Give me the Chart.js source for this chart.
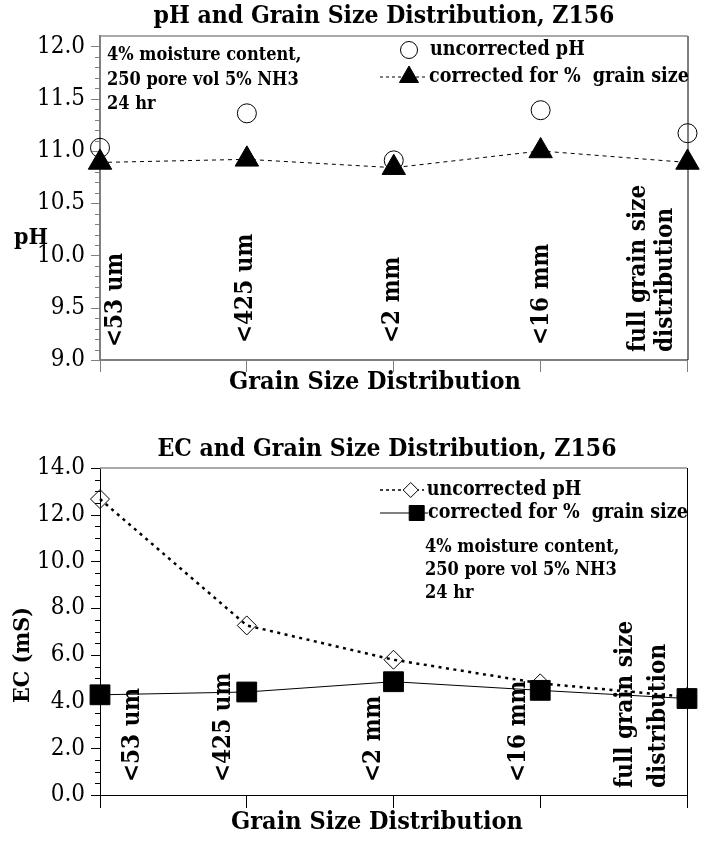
<!DOCTYPE html>
<html>
<head>
<meta charset="utf-8">
<title>pH and EC vs grain size, Z156</title>
<script src="https://cdn.jsdelivr.net/npm/chart.js@4.4.1/dist/chart.umd.min.js"></script>
<style>
  html, body { margin: 0; padding: 0; background: #fff; }
  canvas { display: block; }
</style>
</head>
<body>
<canvas id="phChart" width="702" height="410"></canvas>
<canvas id="ecChart" width="702" height="433"></canvas>
<script>
// values
const categories = ['<53 um', '<425 um', '<2 mm', '<16 mm', ['full grain size', 'distribution']];
const phUncorrected = [11.03, 11.36, 10.91, 11.39, 11.17];
const phCorrected = [10.89, 10.92, 10.84, 11.00, 10.89];
const ecUncorrected = [12.67, 7.26, 5.79, 4.78, 4.20];
const ecCorrected = [4.29, 4.41, 4.85, 4.48, 4.13];
const phRange = [9.0, 12.1];
const ecRange = [0, 14];
const seriesNames = ['uncorrected pH', 'corrected for %  grain size'];
const noteLines = ['4% moisture content,', '250 pore vol 5% NH3', '24 hr'];
const xTitle = 'Grain Size Distribution';

const SERIF = "'DejaVu Serif Condensed', 'DejaVu Serif', serif";

function seg(ctx, x1, y1, x2, y2) {
  ctx.beginPath();
  ctx.moveTo(x1, y1);
  ctx.lineTo(x2, y2);
  ctx.stroke();
}

function marker(ctx, style, x, y, r, fill) {
  ctx.beginPath();
  if (style === 'circle') ctx.arc(x, y, r, 0, Math.PI * 2);
  else if (style === 'triangle') {
    ctx.moveTo(x, y - r);
    ctx.lineTo(x + r * 0.866, y + r * 0.5);
    ctx.lineTo(x - r * 0.866, y + r * 0.5);
    ctx.closePath();
  } else if (style === 'rectRot') {
    ctx.moveTo(x, y - r); ctx.lineTo(x + r, y); ctx.lineTo(x, y + r); ctx.lineTo(x - r, y);
    ctx.closePath();
  } else ctx.rect(x - r, y - r, 2 * r, 2 * r);
  if (fill) { ctx.fillStyle = fill; ctx.fill(); }
  ctx.setLineDash([]);
  ctx.lineWidth = 1;
  ctx.strokeStyle = '#000';
  ctx.stroke();
}

// frame, minor ticks, in-plot category labels, titles, legend, note
const decor = {
  id: 'decor',
  beforeDatasetsDraw(chart, args, o) {
    const {ctx, chartArea: a, scales: {x, y}} = chart;
    ctx.save();
    ctx.strokeStyle = o.frameTop; ctx.lineWidth = 1.5;
    seg(ctx, a.left, a.top, a.right, a.top);
    ctx.strokeStyle = '#000'; ctx.lineWidth = 1;
    seg(ctx, a.right + 0.5, a.top, a.right + 0.5, a.bottom);

    ctx.strokeStyle = o.axisColor; ctx.lineWidth = 1;
    const n = Math.round((o.tickMax - o.tickMin) / o.minor);
    for (let i = 0; i <= n; i++) {
      const py = Math.round(y.getPixelForValue(o.tickMin + i * o.minor)) + 0.5;
      seg(ctx, a.left - (i % o.per === 0 ? 9 : 5), py, a.left, py);
    }

    ctx.fillStyle = '#000';
    ctx.font = 'bold 24px ' + SERIF;
    ctx.textAlign = 'left'; ctx.textBaseline = 'middle';
    chart.data.labels.forEach((lab, i) => {
      const lines = Array.isArray(lab) ? lab : [lab];
      const cx = x.getPixelForValue(i);
      lines.forEach((t, j) => {
        const dx = Array.isArray(o.labelDx[i]) ? o.labelDx[i][j] : o.labelDx[i];
        ctx.save();
        ctx.translate(cx + dx, a.bottom + o.labelDy[i]);
        ctx.rotate(-Math.PI / 2);
        ctx.fillText(t, 0, 0);
        ctx.restore();
      });
    });

    const yt = o.yTitle;
    ctx.font = 'bold 23px ' + SERIF;
    ctx.textAlign = 'center';
    ctx.save();
    ctx.translate(yt.x, yt.y);
    if (yt.rotate) ctx.rotate(-Math.PI / 2);
    ctx.fillText(yt.text, 0, 0);
    ctx.restore();

    ctx.font = 'bold 24.5px ' + SERIF;
    ctx.fillText(o.title, o.titlePos[0], o.titlePos[1]);
    ctx.font = 'bold 25px ' + SERIF;
    ctx.fillText(xTitle, o.xTitlePos[0], a.bottom + o.xTitlePos[1]);
    ctx.restore();
  },
  afterDraw(chart, args, o) {
    const ctx = chart.ctx;
    ctx.save();
    ctx.textAlign = 'left'; ctx.textBaseline = 'middle';
    o.legend.forEach((it, i) => {
      const ds = chart.data.datasets[i];
      if (it.line) {
        ctx.strokeStyle = '#000';
        ctx.lineWidth = it.lineWidth;
        ctx.setLineDash(it.dash);
        seg(ctx, it.line[0], it.y, it.line[1], it.y);
      }
      marker(ctx, ds.pointStyle, it.mx, it.y, it.r, it.fill);
      ctx.fillStyle = '#000';
      ctx.font = 'bold 19.5px ' + SERIF;
      ctx.fillText(ds.label, it.tx, it.y);
    });
    ctx.font = 'bold 18px ' + SERIF;
    noteLines.forEach((t, i) => ctx.fillText(t, o.note.x, o.note.y[i]));
    ctx.restore();
  }
};

function baseOptions(cfg) {
  return {
    responsive: false,
    animation: false,
    events: [],
    layout: { padding: { left: 0, right: cfg.padRight, top: cfg.padTop, bottom: cfg.padBottom } },
    plugins: {
      legend: { display: false },
      tooltip: { enabled: false },
      title: { display: false },
      decor: cfg.decor
    },
    scales: {
      x: {
        type: 'category',
        offset: false,
        afterFit: s => { s.height = cfg.xHeight; },
        grid: { display: true, drawOnChartArea: false, drawTicks: true, tickLength: cfg.tickLen, color: cfg.axisColor, offset: false },
        border: { display: true, color: cfg.axisColor, width: cfg.axisWidth },
        ticks: { display: false }
      },
      y: {
        min: cfg.range[0],
        max: cfg.range[1],
        afterFit: s => { s.width = 100; },
        grid: { display: false, drawTicks: false },
        border: { display: true, color: cfg.axisColor, width: cfg.axisWidth },
        ticks: {
          stepSize: cfg.step,
          includeBounds: false,
          padding: 15,
          color: '#000',
          font: { family: SERIF, size: 24 },
          callback: v => Number(v).toFixed(1)
        }
      }
    }
  };
}

new Chart(document.getElementById('phChart'), {
  type: 'line',
  data: {
    labels: categories,
    datasets: [
      {
        label: seriesNames[0], data: phUncorrected, showLine: false,
        pointStyle: 'circle', pointRadius: 9.5, pointBorderWidth: 1,
        pointBorderColor: '#000', pointBackgroundColor: 'rgba(0,0,0,0)',
        borderColor: '#000', order: 1, clip: false
      },
      {
        label: seriesNames[1], data: phCorrected,
        borderColor: '#000', borderWidth: 1, borderDash: [4, 4], tension: 0,
        pointStyle: 'triangle', pointRadius: 13.5, pointBorderWidth: 1,
        pointBorderColor: '#000', pointBackgroundColor: '#000', order: 0, clip: false
      }
    ]
  },
  plugins: [decor],
  options: baseOptions({
    padTop: 36, padRight: 10, padBottom: 15, xHeight: 35, tickLen: 12,
    axisColor: '#7f7f7f', axisWidth: 2,
    range: phRange, step: 0.5,
    decor: {
      title: 'pH and Grain Size Distribution, Z156',
      titlePos: [384, 17],
      xTitlePos: [375, 22],
      frameTop: '#8c8c8c', axisColor: '#7f7f7f',
      tickMin: 9, tickMax: 12, minor: 0.1, per: 5,
      labelDx: [16, -1, -1, 1, [-49, -22]],
      labelDy: [-13, -17, -17, -15, -8],
      yTitle: { text: 'pH', x: 31, y: 238, rotate: false },
      legend: [
        { y: 50, mx: 409, r: 8.5, fill: null, tx: 430 },
        { y: 77, mx: 409, r: 11, fill: '#000', tx: 429, line: [380, 427], dash: [3, 3], lineWidth: 1 }
      ],
      note: { x: 107, y: [55, 80, 104] }
    }
  })
});

new Chart(document.getElementById('ecChart'), {
  type: 'line',
  data: {
    labels: categories,
    datasets: [
      {
        label: seriesNames[0], data: ecUncorrected,
        borderColor: '#000', borderWidth: 2.5, borderDash: [3, 4.5], tension: 0,
        pointStyle: 'rectRot', pointRadius: 9.5, pointBorderWidth: 1,
        pointBorderColor: '#000', pointBackgroundColor: 'rgba(0,0,0,0)', order: 1, clip: false
      },
      {
        label: seriesNames[1], data: ecCorrected,
        borderColor: '#000', borderWidth: 1, tension: 0,
        pointStyle: 'rect', pointRadius: 14, pointBorderWidth: 1,
        pointBorderColor: '#000', pointBackgroundColor: '#000', order: 0, clip: false
      }
    ]
  },
  plugins: [decor],
  options: baseOptions({
    padTop: 58, padRight: 9, padBottom: 8, xHeight: 40, tickLen: 13,
    axisColor: '#000', axisWidth: 1,
    range: ecRange, step: 2,
    decor: {
      title: 'EC and Grain Size Distribution, Z156',
      titlePos: [387, 40],
      xTitlePos: [377, 27],
      frameTop: '#8c8c8c', axisColor: '#000',
      tickMin: 0, tickMax: 14, minor: 0.5, per: 4,
      labelDx: [33, -23, -20, -21, [-61, -28]],
      labelDy: [-13, -13, -13, -13, -7],
      yTitle: { text: 'EC (mS)', x: 23, y: 245, rotate: true },
      legend: [
        { y: 80, mx: 410.7, r: 7.5, fill: '#fff', tx: 426.7, line: [380, 424], dash: [3, 3], lineWidth: 1.5 },
        { y: 103, mx: 416.7, r: 7.5, fill: '#000', tx: 428, line: [380, 428], dash: [], lineWidth: 1 }
      ],
      note: { x: 425, y: [137, 160, 183] }
    }
  })
});
</script>
</body>
</html>
